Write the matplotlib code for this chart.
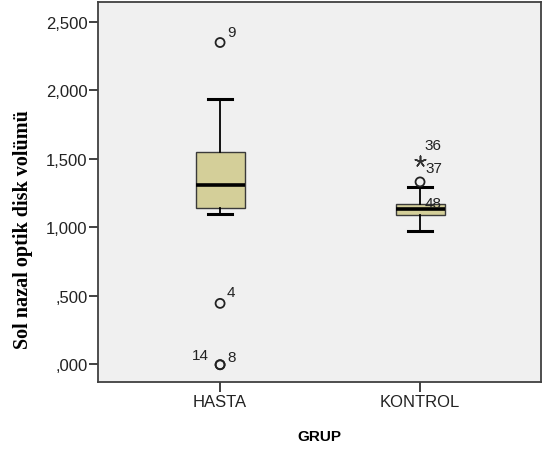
import matplotlib
matplotlib.use("Agg")
import matplotlib.pyplot as plt
from matplotlib.ticker import FixedLocator

# Box statistics (SPSS boxplot)
groups = ["HASTA", "KONTROL"]
q1 = [1137, 1088]
median = [1307, 1131]
q3 = [1550, 1168]
whisker_lo = [1095, 975]
whisker_hi = [1939, 1290]

# outliers: (group index, value, case label, label dx, label dy in points)
circle_x = [0, 0, 0, 0, 1]
circle_y = [2348, 443, -5, -5, 1330]
circle_lab = ["9", "4", "14", "8", "48"]
circle_off = [(5, 5), (5, 5), (-20, 4), (5, 3), (3, -18)]

star_x = [1, 1]
star_y = [1482, 1482]
star_lab = ["36", "37"]
star_off = [(3, 9), (4, -8)]

yticks = [0, 500, 1000, 1500, 2000, 2500]
ytick_labels = [",000", ",500", "1,000", "1,500", "2,000", "2,500"]

plt.rcParams["font.family"] = ["Liberation Sans", "DejaVu Sans"]
fig = plt.figure(figsize=(5.45, 4.52), dpi=100)
ax = fig.add_axes([0.18, 0.1527, 0.8127, 0.8407])
ax.set_facecolor("#f0f0f0")

pos = [1, 2]
stats = []
for i, g in enumerate(groups):
    stats.append({"label": g, "q1": q1[i], "med": median[i], "q3": q3[i],
                  "whislo": whisker_lo[i], "whishi": whisker_hi[i], "fliers": []})
ax.bxp(stats, positions=pos, widths=0.245, capwidths=0.12, patch_artist=True,
       boxprops=dict(facecolor="#d4cf99", edgecolor="#3a3a3a", linewidth=1.0),
       medianprops=dict(color="black", linewidth=2.6),
       whiskerprops=dict(color="black", linewidth=1.3),
       capprops=dict(color="black", linewidth=2.2), manage_ticks=False)

cx = [pos[i] for i in circle_x]
ax.scatter(cx, circle_y, s=42, facecolors="none", edgecolors="#222222",
           linewidths=1.3, zorder=5)
sx = [pos[i] for i in star_x]
ax.scatter(sx, star_y, s=60, marker=(5, 2), color="#333333", linewidths=1.0, zorder=5)

for x, y, t, (dx, dy) in zip(cx, circle_y, circle_lab, circle_off):
    ax.annotate(t, (x, y), xytext=(dx, dy), textcoords="offset points",
                fontsize=11, color="#222222")
for x, y, t, (dx, dy) in zip(sx, star_y, star_lab, star_off):
    ax.annotate(t, (x, y), xytext=(dx, dy), textcoords="offset points",
                fontsize=11, color="#222222")

ax.set_xlim(0.39, 2.605)
ax.set_ylim(-131, 2644)
ax.yaxis.set_major_locator(FixedLocator(yticks))
ax.set_yticklabels(ytick_labels)
ax.set_xticks(pos)
ax.set_xticklabels(groups)
ax.tick_params(axis="both", direction="out", length=7, width=1.3, pad=2,
               colors="#333333", labelsize=12, labelcolor="#222222")
ax.tick_params(axis="y", length=6.5, pad=1)
for s in ax.spines.values():
    s.set_color("#404040")
    s.set_linewidth(1.3)

ax.set_xlabel("GRUP", fontsize=11, fontweight="bold", labelpad=14,
              family=["Liberation Sans Narrow", "Liberation Sans"])
ax.set_ylabel("Sol nazal optik disk volümü", fontsize=14.5, fontweight="bold",
              family=["Liberation Serif", "DejaVu Serif"])
ax.yaxis.set_label_coords(-0.148, 0.405)

fig.savefig("out.png", dpi=100)
